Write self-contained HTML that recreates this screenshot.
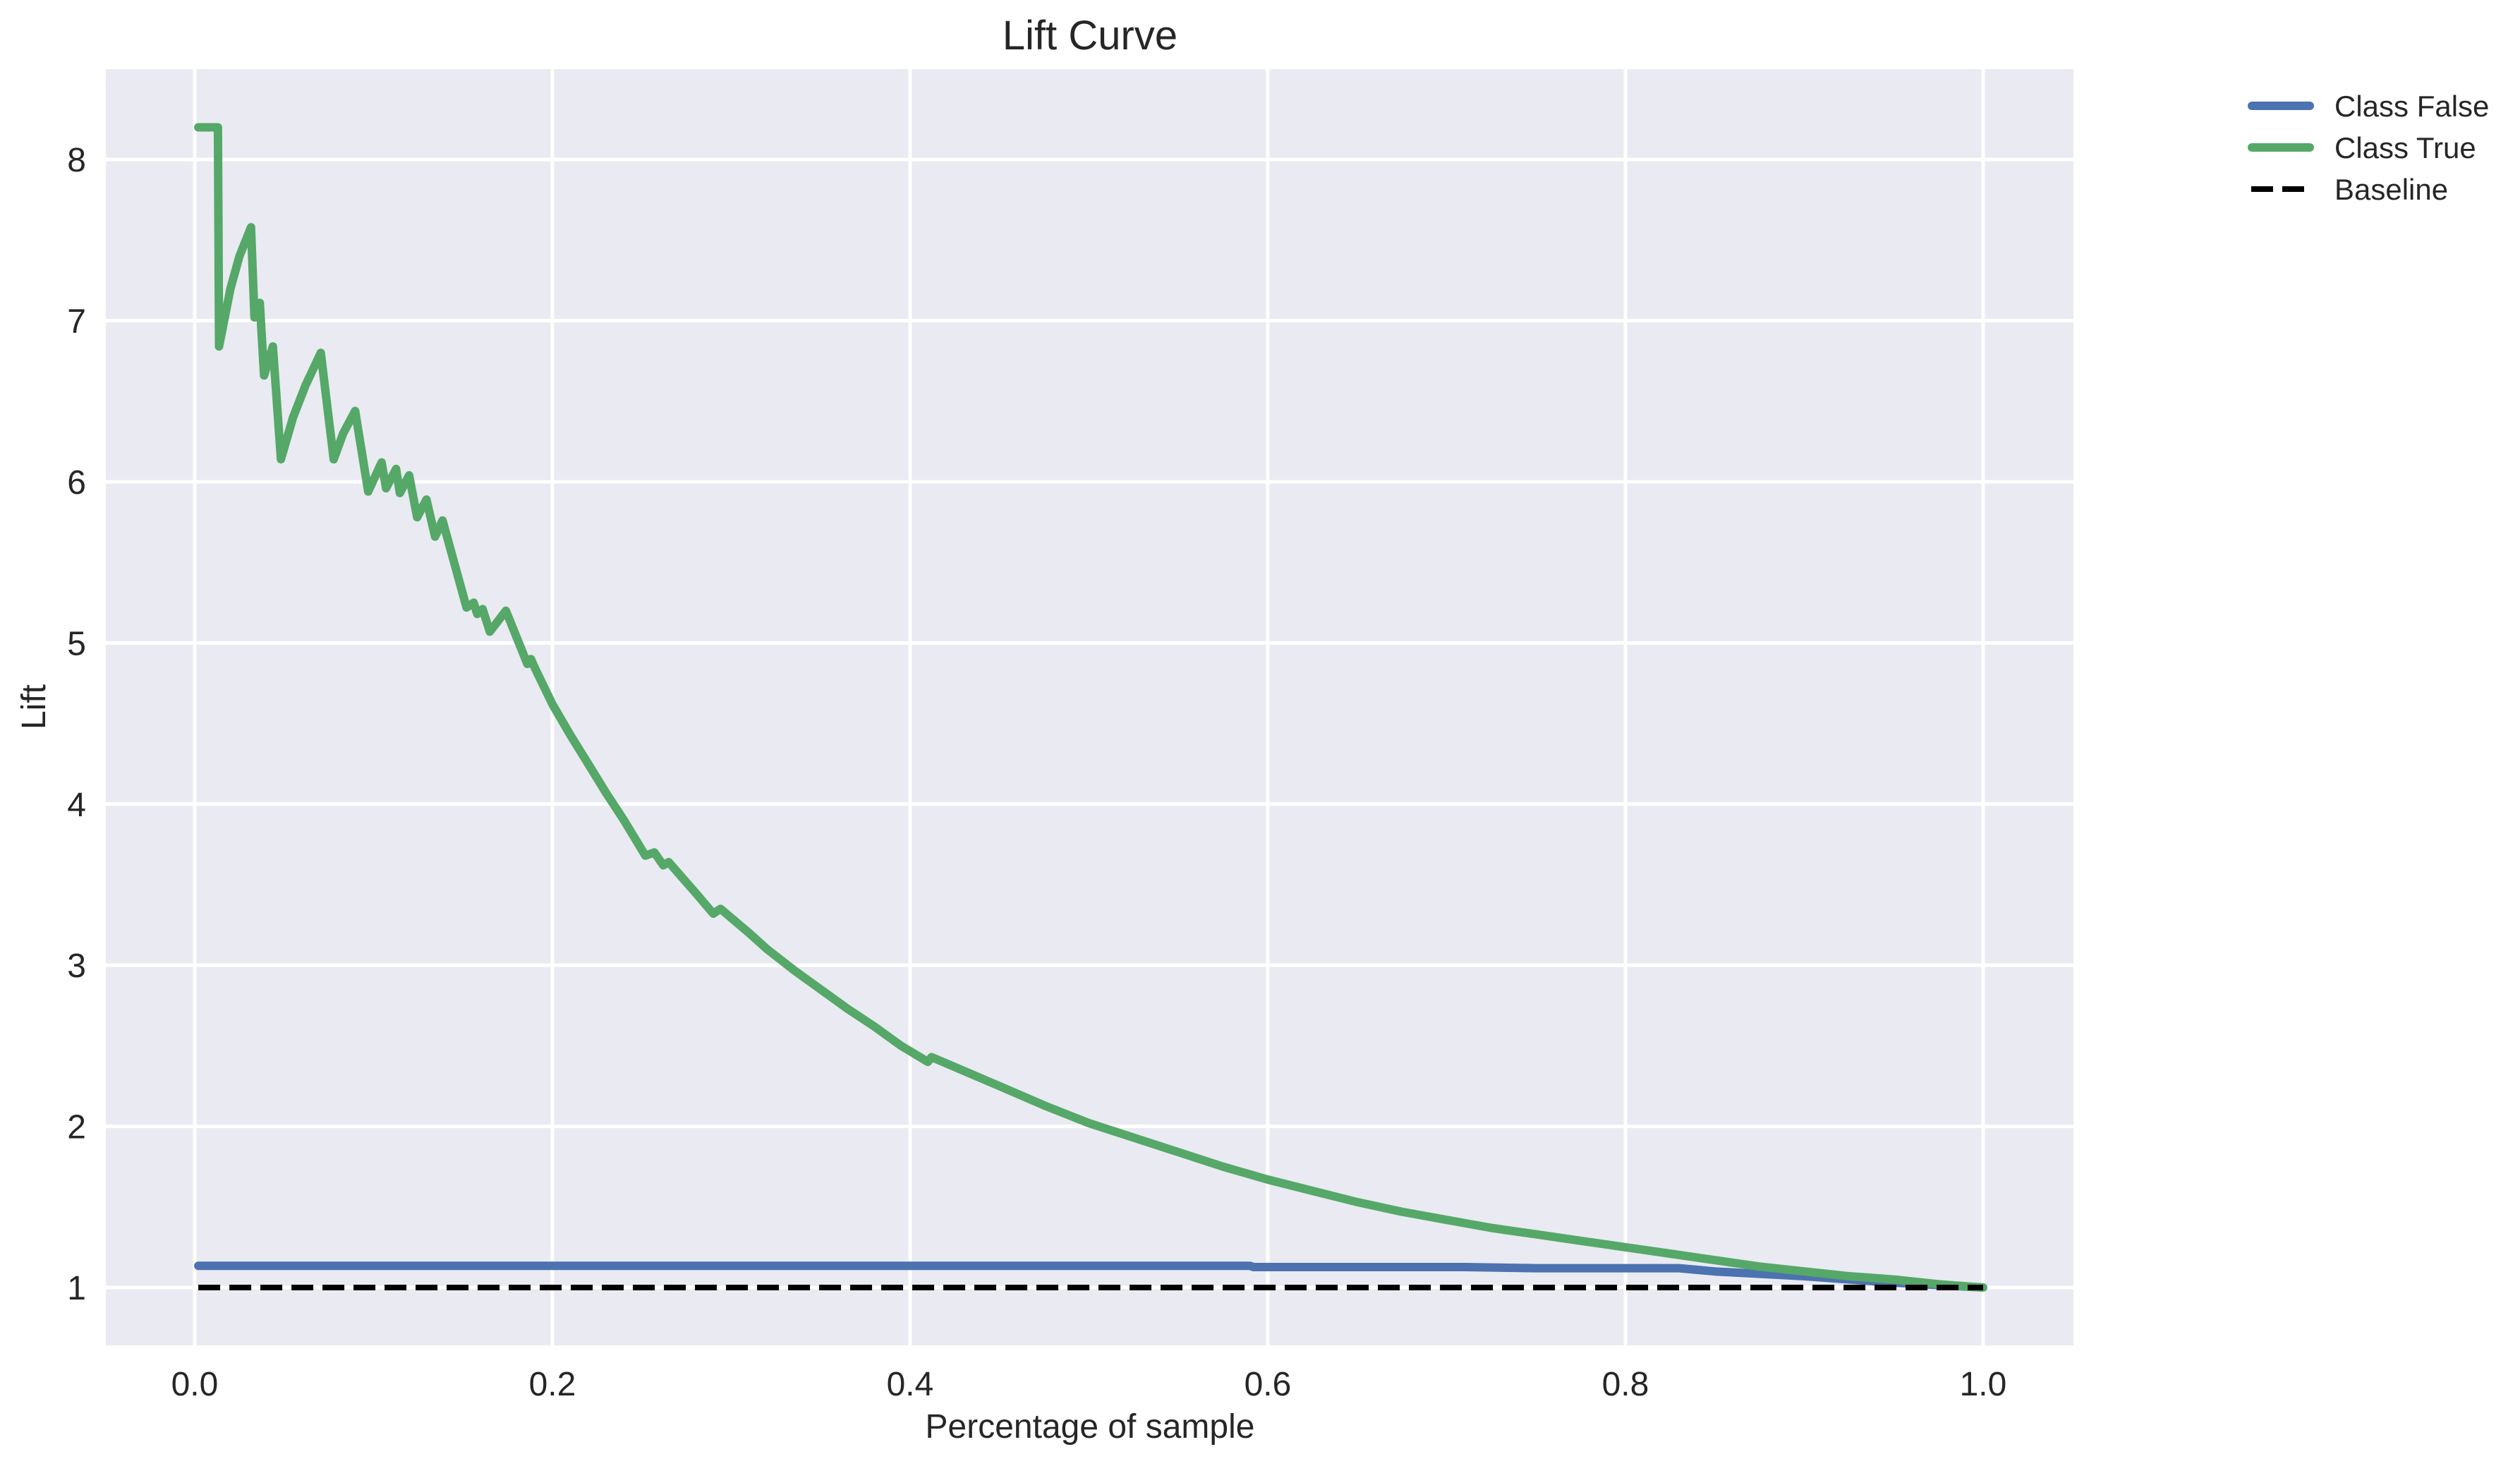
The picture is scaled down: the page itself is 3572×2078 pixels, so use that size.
<!DOCTYPE html>
<html><head><meta charset="utf-8">
<style>
html,body{margin:0;padding:0;background:#fff;}
svg{display:block;font-family:"Liberation Sans",Arial,sans-serif;}
</style></head>
<body>
<svg id="chart" width="3572" height="2078" viewBox="0 0 3572 2078" xmlns="http://www.w3.org/2000/svg">
  <rect x="150" y="98" width="2789" height="1809" fill="#eaeaf2"/>
  <g id="grid"></g>
  <g id="series"></g>
  <g id="ticks"></g>
  <text x="1545" y="70" font-size="58" fill="#262626" text-anchor="middle">Lift Curve</text>
  <text x="1545" y="2038" font-size="48" fill="#262626" text-anchor="middle">Percentage of sample</text>
  <text transform="translate(64,1002) rotate(-90)" font-size="48" fill="#262626" text-anchor="middle">Lift</text>
  <g>
    <g>
      <line x1="3192" y1="150" x2="3274" y2="150" stroke="#4c72b0" stroke-width="12" stroke-linecap="round"/>
      <text x="3309" y="165" font-size="42" fill="#262626">Class False</text>
    </g>
    <g>
      <line x1="3192" y1="209" x2="3274" y2="209" stroke="#55a868" stroke-width="12" stroke-linecap="round"/>
      <text x="3309" y="224" font-size="42" fill="#262626">Class True</text>
    </g>
    <g>
      <line x1="3191" y1="268" x2="3266" y2="268" stroke="#000" stroke-width="8" stroke-dasharray="31 13"/>
      <text x="3309" y="283" font-size="42" fill="#262626">Baseline</text>
    </g>
  </g>
</svg>
<script>
const xTicks = [0.0, 0.2, 0.4, 0.6, 0.8, 1.0];
const xTickLabels = ["0.0", "0.2", "0.4", "0.6", "0.8", "1.0"];
const yTicks = [1, 2, 3, 4, 5, 6, 7, 8];
const yTickLabels = ["1", "2", "3", "4", "5", "6", "7", "8"];
const trueX = [0.002,0.013,0.0136,0.02,0.025,0.0315,0.0334,0.0364,0.0388,0.0437,0.0482,0.055,0.062,0.0705,0.0777,0.083,0.0897,0.097,0.1045,0.107,0.1126,0.1147,0.1199,0.1244,0.1296,0.1344,0.1386,0.152,0.156,0.158,0.161,0.165,0.174,0.186,0.188,0.19,0.2,0.21,0.22,0.23,0.24,0.252,0.257,0.262,0.265,0.28,0.29,0.294,0.31,0.32,0.335,0.35,0.365,0.38,0.395,0.41,0.412,0.45,0.475,0.5,0.525,0.55,0.575,0.6,0.625,0.65,0.675,0.7,0.725,0.75,0.775,0.8,0.825,0.85,0.875,0.9,0.925,0.95,0.975,1.0];
const trueY = [8.2,8.2,6.84,7.2,7.4,7.58,7.02,7.11,6.66,6.84,6.14,6.4,6.6,6.8,6.14,6.3,6.44,5.94,6.12,5.96,6.08,5.93,6.04,5.78,5.89,5.66,5.76,5.22,5.25,5.18,5.21,5.07,5.2,4.87,4.9,4.85,4.62,4.43,4.25,4.07,3.9,3.68,3.7,3.62,3.64,3.45,3.32,3.35,3.2,3.1,2.97,2.85,2.73,2.62,2.5,2.4,2.43,2.25,2.13,2.02,1.93,1.84,1.75,1.67,1.6,1.53,1.47,1.42,1.37,1.33,1.29,1.25,1.21,1.17,1.13,1.1,1.07,1.05,1.02,1.0];
const falseX = [0.002,0.59,0.592,0.71,0.75,0.83,0.85,0.9,0.95,1.0];
const falseY = [1.135,1.135,1.127,1.127,1.12,1.12,1.1,1.07,1.03,1.0];
const baseX = [0.002,1.0];
const baseY = [1,1];

const NS = "http://www.w3.org/2000/svg";
const PL = 150, PR = 2939, PT = 98, PB = 1907;
const X0 = -0.0497, X1 = 1.0505, Y0 = 0.641, Y1 = 8.561;
function sx(v){ return PL + (v - X0) / (X1 - X0) * (PR - PL); }
function sy(v){ return PB - (v - Y0) / (Y1 - Y0) * (PB - PT); }
function mk(tag, attrs){ const e = document.createElementNS(NS, tag); for (const k in attrs) e.setAttribute(k, attrs[k]); return e; }

const grid = document.getElementById('grid');
const ticks = document.getElementById('ticks');
xTicks.forEach((v, i) => {
  const l = mk('line', {x1: sx(v), x2: sx(v), y1: PT, y2: PB, stroke: '#fff', 'stroke-width': 5});
  
  
  grid.appendChild(l);
  const t = mk('text', {x: sx(v), y: 1978, 'font-size': 48, fill: '#262626', 'text-anchor': 'middle'});
  t.textContent = xTickLabels[i];
  
  
  ticks.appendChild(t);
});
yTicks.forEach((v, i) => {
  const l = mk('line', {x1: PL, x2: PR, y1: sy(v), y2: sy(v), stroke: '#fff', 'stroke-width': 5});
  
  
  grid.appendChild(l);
  const t = mk('text', {x: 122, y: sy(v) + 17, 'font-size': 48, fill: '#262626', 'text-anchor': 'end'});
  t.textContent = yTickLabels[i];
  
  
  ticks.appendChild(t);
});

function pts(xs, ys){ return xs.map((x, i) => sx(x).toFixed(1) + ',' + sy(ys[i]).toFixed(1)).join(' '); }
const series = document.getElementById('series');
const lf = mk('polyline', {points: pts(falseX, falseY), fill: 'none', stroke: '#4c72b0', 'stroke-width': 12, 'stroke-linecap': 'round', 'stroke-linejoin': 'round'});


series.appendChild(lf);
const lt = mk('polyline', {points: pts(trueX, trueY), fill: 'none', stroke: '#55a868', 'stroke-width': 12, 'stroke-linecap': 'round', 'stroke-linejoin': 'round'});


series.appendChild(lt);
const lb = mk('polyline', {points: pts(baseX, baseY), fill: 'none', stroke: '#000', 'stroke-width': 8, 'stroke-dasharray': '31 13'});


series.appendChild(lb);
</script>
</body></html>
